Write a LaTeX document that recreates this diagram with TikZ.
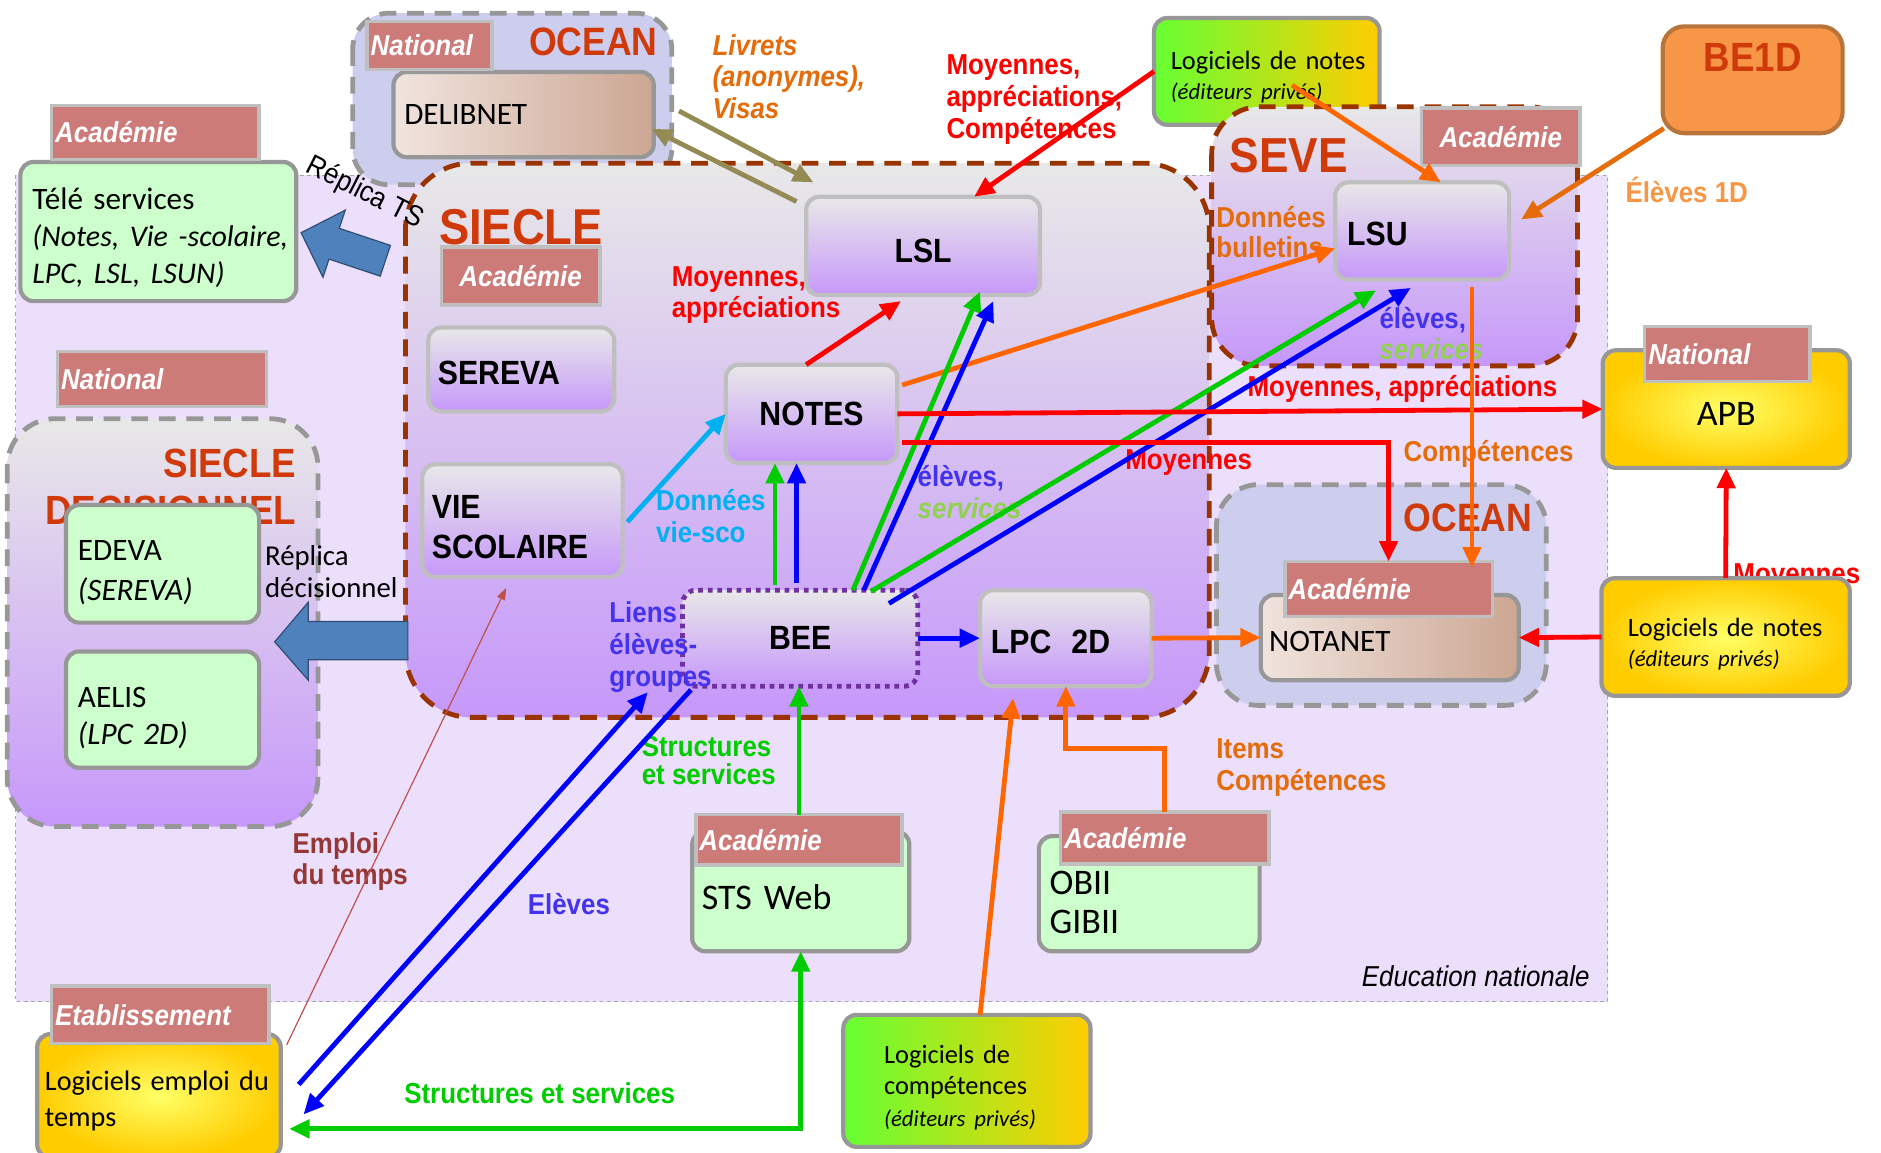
\documentclass[tikz,border=0pt]{standalone}
\usepackage{fontspec}
\setmainfont{Carlito}
\newfontfamily\lbl[FakeStretch=0.9]{Liberation Sans}
\usetikzlibrary{arrows.meta,calc,positioning}

\definecolor{tagpink}{HTML}{CD7B79}
\definecolor{tagline}{HTML}{BFBFBF}
\definecolor{boxline}{HTML}{979797}
\definecolor{titlered}{HTML}{D03A0A}
\definecolor{sieclebrown}{HTML}{993300}
\definecolor{lavbg}{HTML}{EBDFFC}
\definecolor{oceanfill}{HTML}{CDCDEE}
\definecolor{lilac}{HTML}{C698FA}
\definecolor{paleg}{HTML}{CCFFCC}
\definecolor{delibl}{HTML}{F0E4DE}
\definecolor{delibr}{HTML}{CCA692}
\definecolor{yellowin}{HTML}{FFFF66}
\definecolor{yellowout}{HTML}{FFCC00}
\definecolor{limeg}{HTML}{66FF33}
\definecolor{olivearr}{HTML}{948A54}
\definecolor{orangearr}{HTML}{FF6600}
\definecolor{orangelab}{HTML}{E46C0A}
\definecolor{violetlab}{HTML}{4433EE}
\definecolor{lightgreen}{HTML}{92D050}
\definecolor{skyblue}{HTML}{00B0F0}
\definecolor{greenarr}{HTML}{00CC00}
\definecolor{bluearr}{HTML}{0000FF}
\definecolor{darkred}{HTML}{953735}
\definecolor{thinred}{HTML}{C0504D}
\definecolor{be1dfill}{HTML}{F79646}
\definecolor{be1dline}{HTML}{B8743A}
\definecolor{beepurple}{HTML}{7030A0}
\definecolor{fatblue}{HTML}{4F81BD}

\begin{document}
\begin{tikzpicture}[x=1pt,y=-1pt,
  every node/.style={inner sep=0pt,outer sep=0pt},
  box/.style={draw=boxline,line width=3.5pt,rounded corners=11pt,anchor=north west,align=left,inner xsep=9pt},
  sbox/.style={box,draw=tagline,top color=gray!18,bottom color=lilac,font=\lbl\bfseries\fontsize{28}{33}\selectfont},
  gbox/.style={box,fill=paleg,font=\fontsize{26}{31}\selectfont},
  bbox/.style={box,left color=delibl,right color=delibr,font=\fontsize{26}{31}\selectfont},
  ybox/.style={box,inner color=yellowin,outer color=yellowout,font=\fontsize{22}{25}\selectfont},
  gybox/.style={box,left color=limeg,right color=yellowout,font=\fontsize{22}{25}\selectfont},
  tagbox/.style={draw=tagline,line width=3pt,fill=tagpink,text=white,anchor=north west,inner xsep=3pt,align=left,font=\lbl\bfseries\itshape\fontsize{24}{26}\selectfont},
  bigtitle/.style={text=titlered,font=\lbl\bfseries\fontsize{#1}{39}\selectfont},
  lab/.style={font=\lbl\bfseries\fontsize{24}{26.5}\selectfont,anchor=base west,align=left},
  zone/.style={line width=4pt,dash pattern=on 14pt off 9pt},
  arr/.style={line width=4pt,-{Triangle[length=17pt,width=15pt]}},
]
\useasboundingbox (0,0) rectangle (1568,961);

% Education nationale
\fill[lavbg] (13,146) rectangle (1340,835);
\draw[gray!70,line width=1pt,dashed] (13,146) rectangle (1340,835);

% zones
\draw[zone,boxline,fill=oceanfill,rounded corners=30pt] (294,11) rectangle (560,154);
\draw[zone,boxline,top color=gray!18,bottom color=lilac,rounded corners=40pt] (6,349) rectangle (265,689);
\node[gybox,minimum width=188pt,minimum height=89pt,text width=160pt,inner xsep=14pt] (lognotest) at (962,15) {\rule{0pt}{25.5pt}\mbox{Logiciels de notes}\\{\fontsize{19}{22}\selectfont\itshape \mbox{(éditeurs privés)}}};
\draw[zone,sieclebrown,top color=gray!18,bottom color=lilac,rounded corners=40pt] (1010,89) rectangle (1315,305);
\draw[zone,sieclebrown,top color=gray!18,bottom color=lilac,rounded corners=55pt] (338,136) rectangle (1008,598);
\draw[zone,boxline,fill=oceanfill,rounded corners=35pt] (1014,404) rectangle (1289,588);

% titres
\node[bigtitle=33,anchor=base west] (ttocean) at (441,46) {OCEAN};
\node[bigtitle=42,anchor=base west] (ttsiecle) at (366,204) {SIECLE};
\node[bigtitle=41,anchor=base west] (ttseve) at (1025,144) {SEVE};
\node[bigtitle=33,anchor=base west] (ttoceanb) at (1170,443) {OCEAN};
\node[bigtitle=34,anchor=base east,align=right] (ttsd) at (247,437) {SIECLE\\DECISIONNEL};

% boites
\node[bbox,minimum width=217pt,minimum height=71pt,text width=199pt] (delib) at (328,60) {DELIBNET};
\node[gbox,minimum width=230pt,minimum height=116pt,text width=210pt,inner xsep=10pt] (tele) at (17,135) {\rule{0pt}{28.5pt}Télé services\\{\fontsize{25}{31}\selectfont\itshape\mbox{(Notes, Vie -scolaire,}}\\{\fontsize{25}{31}\selectfont\itshape\mbox{LPC, LSL, LSUN)}}};
\node[gbox,minimum width=161pt,minimum height=98pt,text width=141pt,inner xsep=10pt,font=\fontsize{26}{33}\selectfont] (edeva) at (55,421) {\rule{0pt}{31pt}EDEVA\\\textit{(SEREVA)}};
\node[gbox,minimum width=161pt,minimum height=97pt,text width=141pt,inner xsep=10pt] (aelis) at (55,543) {\rule{0pt}{31pt}AELIS\\\textit{(LPC 2D)}};

\node[sbox,minimum width=155pt,minimum height=70pt,text width=139pt,inner xsep=8pt] (sereva) at (357,273) {\rule{0pt}{26pt}SEREVA};
\node[sbox,minimum width=167pt,minimum height=94pt,text width=151pt,inner xsep=8pt] (vie) at (352,387) {\rule{0pt}{30pt}VIE\\SCOLAIRE};
\node[sbox,minimum width=143pt,minimum height=82pt,align=center] (notes) at (605,304) {NOTES};
\node[sbox,minimum width=195pt,minimum height=82pt,align=center] (lsl) at (672,164) {\rule{0pt}{28pt}LSL};
\node[sbox,draw=beepurple,line width=4pt,dash pattern=on 4pt off 4pt,minimum width=196pt,minimum height=80pt,align=center] (bee) at (569,492) {BEE};
\node[sbox,minimum width=143pt,minimum height=80pt,text width=125pt] (lpc) at (817,492) {\rule{0pt}{26pt}LPC\hspace{0.6em}2D};
\node[sbox,minimum width=145pt,minimum height=81pt,text width=125pt,inner xsep=10pt] (lsu) at (1113,152) {\rule{0pt}{24pt}LSU};

\node[bbox,minimum width=215pt,minimum height=71pt,text width=201pt,inner xsep=7pt] (notanet) at (1051,496) {\rule{0pt}{23pt}NOTANET};
\node[ybox,minimum width=206pt,minimum height=98pt,align=center,font=\fontsize{30}{34}\selectfont] (apb) at (1336,292) {\rule{0pt}{27pt}APB};
\node[lab,text=red] (lblmoyb) at (1445,486.5) {Moyennes};
\node[ybox,minimum width=207pt,minimum height=98pt,text width=163pt,inner xsep=22pt] (lognotesr) at (1335,482) {\rule{0pt}{27.5pt}\mbox{Logiciels de notes}\\{\fontsize{19}{22}\selectfont\itshape \mbox{(éditeurs privés)}}};
\node[box,fill=be1dfill,draw=be1dline,rounded corners=18pt,minimum width=150pt,minimum height=89pt,align=center,text=titlered,font=\lbl\bfseries\fontsize{34}{36}\selectfont,text height=25pt,text depth=38pt] (be1d) at (1386,22) {BE1D};

\node[gbox,minimum width=181pt,minimum height=100pt,text width=165pt,inner xsep=8pt,font=\fontsize{30}{32}\selectfont] (sts) at (577,693) {\rule{0pt}{30pt}STS Web};
\node[gbox,minimum width=184pt,minimum height=96pt,text width=166pt,inner xsep=9pt,font=\fontsize{30}{32}\selectfont] (obii) at (866,697) {\rule{0pt}{34pt}OBII\\GIBII};
\node[ybox,minimum width=203pt,minimum height=103pt,text width=190pt,inner xsep=6.5pt,font=\fontsize{23.5}{30}\selectfont] (emploi) at (31,862) {\rule{0pt}{25.6pt}\mbox{Logiciels emploi du}\\temps};
\node[gybox,minimum width=206pt,minimum height=110pt,text width=138pt,inner xsep=34pt,font=\fontsize{22}{26}\selectfont] (logcomp) at (703,846) {\rule{0pt}{26.5pt}Logiciels de\\compétences\\{\fontsize{19}{22}\selectfont\itshape \mbox{(éditeurs privés)}}};

% etiquettes
\node[tagbox,text width=98pt,minimum height=40pt] (tgdelib) at (306,18) {National};
\node[tagbox,text width=167pt,minimum height=45pt] (tgtele) at (43,88) {Académie};
\node[tagbox,text width=126pt,minimum height=48pt,align=center] (tgsiecle) at (368,206) {Académie};
\node[tagbox,text width=126pt,minimum height=48pt,align=center] (tgseve) at (1185,90) {Académie};
\node[tagbox,text width=168pt,minimum height=46pt] (tgsd) at (48,293) {National};
\node[tagbox,text width=132pt,minimum height=46pt] (tgapb) at (1371,272) {National};
\node[tagbox,text width=167pt,minimum height=46pt] (tgnotanet) at (1071,468) {Académie};
\node[tagbox,text width=166pt,minimum height=42pt] (tgsts) at (580,679) {Académie};
\node[tagbox,text width=168pt,minimum height=43pt] (tgobii) at (884,677) {Académie};
\node[tagbox,text width=175pt,minimum height=48pt] (tgemploi) at (43,822) {Etablissement};

% fleches pleines
\draw[fatblue!60!black,fill=fatblue,line width=1pt] (229,535) -- (257,502) -- (257,518) -- (340,518) -- (340,550) -- (257,550) -- (257,567) -- cycle;
\begin{scope}[shift={(251,194)},rotate=-18.4]
\draw[fatblue!60!black,fill=fatblue,line width=1pt] (0,0) -- (29,-29.5) -- (29,-13.5) -- (74,-13.5) -- (74,13.5) -- (29,13.5) -- (29,29.5) -- cycle;
\end{scope}

% textes
\node[lab,text=orangelab,font=\lbl\bfseries\itshape\fontsize{24}{26.5}\selectfont] (lbllivrets) at (594,99) {Livrets\\(anonymes),\\Visas};
\node[lab,text=red] (lblmoylsl) at (789,115.5) {Moyennes,\\appréciations,\\Compétences};
\node[lab,text=red] (lblmoynotes) at (560,265) {Moyennes,\\appréciations};
\node[lab,text=orangelab,font=\lbl\bfseries\fontsize{24}{25}\selectfont] (lbldonbul) at (1014,214.5) {Données\\bulletins};
\node[lab] (lblelevlsu) at (1150,300) {\color{violetlab}élèves,\\\color{lightgreen}\itshape services};
\node[lab,text=be1dfill] (lblbe1d) at (1355,168.5) {Élèves 1D};
\node[lab,text=red] (lblmoyapb) at (1040,330.5) {Moyennes, appréciations};
\node[lab,text=red] (lblmoynot) at (938,391.5) {Moyennes};
\node[lab,text=orangelab] (lblcomp) at (1170,384.5) {Compétences};
\node[lab] (lblelevlsl) at (765,432) {\color{violetlab}élèves,\\\color{lightgreen}\itshape services};
\node[lab,text=skyblue] (lbldonvie) at (547,452) {Données\\vie-sco};
\node[lab,text=violetlab,font=\lbl\bfseries\fontsize{24}{27}\selectfont] (lblliens) at (508,572.5) {Liens\\élèves-\\groupes};
\node[lab,text=greenarr,font=\lbl\bfseries\fontsize{24}{23.5}\selectfont] (lblstructbee) at (535,654) {Structures\\et services};
\node[lab,text=darkred,font=\lbl\bfseries\fontsize{24}{25.5}\selectfont] (lblemploi) at (244,737) {Emploi\\du temps};
\node[lab,text=violetlab] (lbleleves) at (440,762.5) {Elèves};
\node[lab,text=greenarr] (lblstructsts) at (337,919.5) {Structures et services};
\node[lab,text=orangelab] (lblitems) at (1014,659) {Items\\Compétences};
\node[font=\lbl\itshape\fontsize{24}{26}\selectfont,anchor=base east] (lbleducnat) at (1325,822.5) {Education nationale};
\node[rotate=-27,font=\lbl\fontsize{24}{26}\selectfont] (lblrepts) at (304,161) {Réplica TS};
\node[anchor=base west,align=left,font=\fontsize{24}{26.5}\selectfont] (lblrepdec) at (221,498) {Réplica\\décisionnel};

% fleches
\draw[arr,olivearr] ($(delib.east)+(21,-3)$) -- ($(lsl.north west)+(6,-12)$);
\draw[arr,olivearr] ($(lsl.north west)+(-8,4)$) -- ($(delib.east)+(-2,12)$);
\draw[arr,red] (lognotest.west) -- ($(lsl.north)+(42.5,0)$);
\draw[arr,orangearr] ($(lognotest.center)+(21,11.5)$) -- ($(lsu.north)+(15.5,0)$);
\draw[arr,orangelab] ($(be1d.south west)+(1,-4)$) -- ($(lsu.east)+(10,-9.5)$);
\draw[arr,red] ($(notes.north)+(-4.5,0)$) -- ($(lsl.south west)+(79,5)$);
\draw[arr,orangearr] ($(notes.north east)+(4,17)$) -- ($(lsu.west)+(0,14.5)$);
\draw[arr,greenarr] ($(bee.north)+(44,0)$) -- ($(lsl.south)+(47.5,-3)$);
\draw[arr,bluearr] ($(bee.north)+(53,0)$) -- ($(lsl.south)+(58.5,5)$);
\draw[arr,greenarr] ($(bee.north)+(59,1)$) -- ($(lsu.south)+(-38.5,9)$);
\draw[arr,bluearr] ($(bee.north east)+(-24,11)$) -- ($(lsu.south)+(-9.5,7)$);
\draw[arr,greenarr] ($(bee.north)+(-21,-4)$) -- ($(notes.south)+(-30.5,0)$);
\draw[arr,bluearr] ($(bee.north)+(-3,-6)$) -- ($(notes.south)+(-12.5,0)$);
\draw[arr,skyblue] ($(vie.east)+(4,1)$) -- (notes.west);
\draw[arr,red] (notes.east) -- (apb.west);
\draw[arr,red] ($(notes.east)+(4,24)$) -| (tgnotanet.north);
\draw[arr,orangearr] ($(lsu.south)+(41.5,6)$) -- ($(tgnotanet.north)+(69.5,5)$);
\draw[arr,orangearr] (lpc.east) -- (notanet.west);
\draw[arr,bluearr] (bee.east) -- (lpc.west);
\draw[arr,red] (lognotesr.west) -- (notanet.east);
\draw[arr,red] (lognotesr.north) -- (apb.south);
\draw[arr,greenarr] (tgsts.north) -- (tgsts.north |- bee.south);
\draw[arr,orangearr] (tgobii.north) |- ($(lpc.south)+(0,52)$) -- (lpc.south);
\draw[arr,orangearr] ($(logcomp.north)+(11,0)$) -- ($(lpc.south)+(-44,10)$);
\draw[arr,bluearr] ($(emploi.east)+(15,-9.5)$) -- ($(bee.south west)+(-29,5)$);
\draw[arr,bluearr] ($(bee.south west)+(7,3)$) -- ($(emploi.east)+(19,15.5)$);
\draw[thinred,line width=1pt,-{Triangle[length=10pt,width=7pt]}] ($(emploi.north east)+(5,9)$) -- ($(vie.south)+(-13.5,9)$);
\draw[greenarr,line width=4pt,{Triangle[length=17pt,width=15pt]}-{Triangle[length=17pt,width=15pt]}] (sts.south) |- ($(emploi.east)+(7,27.5)$);

\end{tikzpicture}
\end{document}
